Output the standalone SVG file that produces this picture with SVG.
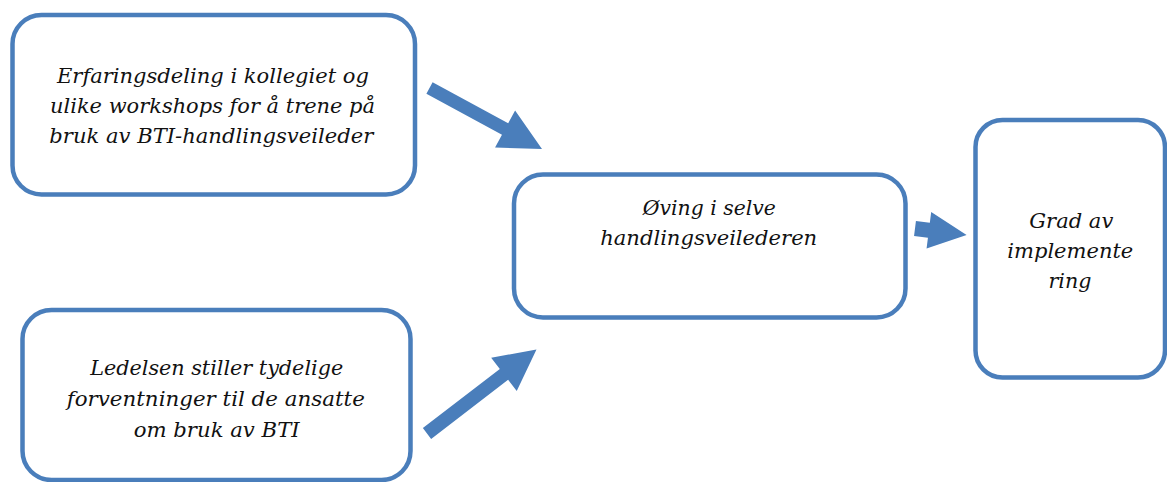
<svg xmlns="http://www.w3.org/2000/svg" width="1167" height="482" viewBox="0 0 1167 482">
  <style>
    .box { fill: #ffffff; stroke: #4A7EBB; stroke-width: 4.5; }
    .lbl { font-family: "DejaVu Serif", "Liberation Serif", serif; font-style: italic; font-size: 21px; fill: #111111; text-anchor: middle; }
    .arrow { fill: #4A7EBB; }
  </style>
  <rect width="1167" height="482" fill="#ffffff"/>

  <g id="node-erfaringsdeling">
    <rect class="box" x="12.5" y="15" width="402.5" height="179.5" rx="29" ry="29"/>
    <text class="lbl" x="213" y="83" textLength="312" lengthAdjust="spacingAndGlyphs">Erfaringsdeling i kollegiet og</text>
    <text class="lbl" x="212.5" y="113" textLength="325" lengthAdjust="spacingAndGlyphs">ulike workshops for å trene på</text>
    <text class="lbl" x="211.3" y="143" textLength="324" lengthAdjust="spacingAndGlyphs">bruk av BTI-handlingsveileder</text>
  </g>

  <g id="node-ledelsen">
    <rect class="box" x="22.5" y="310" width="388" height="170" rx="29" ry="29"/>
    <text class="lbl" x="216.7" y="375" textLength="253" lengthAdjust="spacingAndGlyphs">Ledelsen stiller tydelige</text>
    <text class="lbl" x="215.8" y="406" textLength="298" lengthAdjust="spacingAndGlyphs">forventninger til de ansatte</text>
    <text class="lbl" x="216.7" y="436.5" textLength="166" lengthAdjust="spacingAndGlyphs">om bruk av BTI</text>
  </g>

  <g id="node-oving">
    <rect class="box" x="514" y="174.5" width="391.5" height="143" rx="29" ry="29"/>
    <text class="lbl" x="709.3" y="215" textLength="133" lengthAdjust="spacingAndGlyphs">Øving i selve</text>
    <text class="lbl" x="708.7" y="245" textLength="217" lengthAdjust="spacingAndGlyphs">handlingsveilederen</text>
  </g>

  <g id="node-grad">
    <rect class="box" x="975.5" y="120" width="189.5" height="257.5" rx="27" ry="27"/>
    <text class="lbl" x="1071.3" y="228.3" textLength="84" lengthAdjust="spacingAndGlyphs">Grad av</text>
    <text class="lbl" x="1070.3" y="258.3" textLength="126" lengthAdjust="spacingAndGlyphs">implemente</text>
    <text class="lbl" x="1070" y="288.3" textLength="43" lengthAdjust="spacingAndGlyphs">ring</text>
  </g>

  <g id="connectors">
    <!-- block arrows, drawn along +x then rotated into place -->
    <polygon class="arrow" transform="translate(429.5 88) rotate(28.5)" points="0,-6.5 86,-6.5 86,-21 128,0 86,21 86,6.5 0,6.5"/>
    <polygon class="arrow" transform="translate(427 433.5) rotate(-37.5)" points="0,-6.8 97,-6.8 97,-21 138,0 97,21 97,6.8 0,6.8"/>
    <polygon class="arrow" transform="translate(915 228.5) rotate(7.2)" points="0,-7.5 14,-7.5 14,-18.5 52,0 14,18.5 14,7.5 0,7.5"/>
  </g>
</svg>
